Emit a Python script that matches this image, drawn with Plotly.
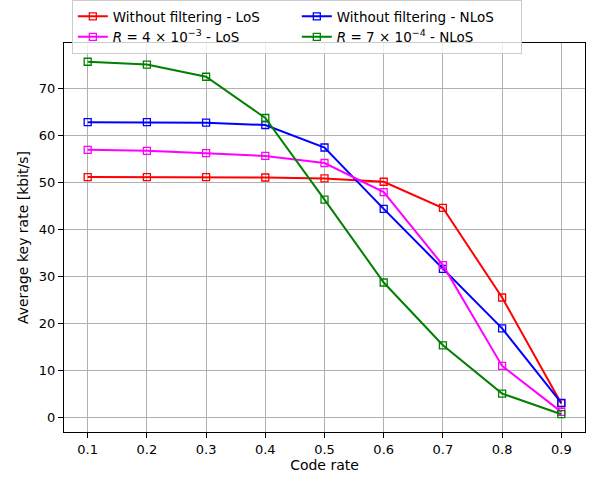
import plotly.graph_objects as go

code_rate = [0.1, 0.2, 0.3, 0.4, 0.5, 0.6, 0.7, 0.8, 0.9]
wf_los = [51.2, 51.2, 51.2, 51.1, 50.9, 50.2, 44.6, 25.5, 2.9]
r4_los = [57.0, 56.8, 56.3, 55.7, 54.2, 48.0, 32.4, 10.9, 1.1]
wf_nlos = [62.9, 62.9, 62.8, 62.3, 57.5, 44.4, 31.6, 18.9, 3.0]
r7_nlos = [75.8, 75.2, 72.6, 63.8, 46.4, 28.7, 15.3, 5.0, 0.6]

names = ["Without filtering - LoS", "Without filtering - NLoS",
         "<i>R</i> = 4 × 10<sup>−3</sup> - LoS", "<i>R</i> = 7 × 10<sup>−4</sup> - NLoS"]
series = [wf_los, wf_nlos, r4_los, r7_nlos]
colors = ["#ff0000", "#0000ff", "#ff00ff", "#008000"]

fig = go.Figure()
for n, s, c in zip(names, series, colors):
    fig.add_trace(go.Scatter(
        x=code_rate, y=s, name=n, mode="lines+markers",
        line=dict(color=c, width=2),
        marker=dict(symbol="square-open", size=7, color=c, line=dict(width=1.3, color=c)),
    ))

axis_common = dict(
    showline=True, linecolor="black", linewidth=1, mirror=True,
    showgrid=True, gridcolor="#b0b0b0", gridwidth=1,
    ticks="outside", ticklen=5, tickcolor="black",
    zeroline=False,
    tickfont=dict(family="DejaVu Sans", size=13, color="black"),
    title_font=dict(family="DejaVu Sans", size=14, color="black"),
)

# paper area spans from top of figure down to bottom margin; y axis domain leaves 43px on top
paper_h = 480 - 48
fig.update_xaxes(range=[0.06, 0.94], tickvals=code_rate,
                 ticktext=[f"{v:.1f}" for v in code_rate],
                 title_text="Code rate", title_standoff=4, **axis_common)
fig.update_yaxes(range=[-3.2, 79.8], tickvals=[0, 10, 20, 30, 40, 50, 60, 70],
                 domain=[0, (paper_h - 43) / paper_h],
                 title_text="Average key rate [kbit/s]", title_standoff=6, **axis_common)

fig.update_layout(
    width=592, height=480,
    margin=dict(l=64, r=7, t=0, b=48),
    plot_bgcolor="white", paper_bgcolor="white",
    font=dict(family="DejaVu Sans", size=13, color="black"),
    legend=dict(
        orientation="h", x=0.015, y=1.0, xanchor="left", yanchor="top",
        entrywidth=179, entrywidthmode="pixels",
        bgcolor="rgba(255,255,255,0.8)", bordercolor="#cccccc", borderwidth=1,
        font=dict(family="DejaVu Sans", size=13.5, color="black"),
        tracegroupgap=0, itemwidth=30,
    ),
)

fig.write_html("out.html")
